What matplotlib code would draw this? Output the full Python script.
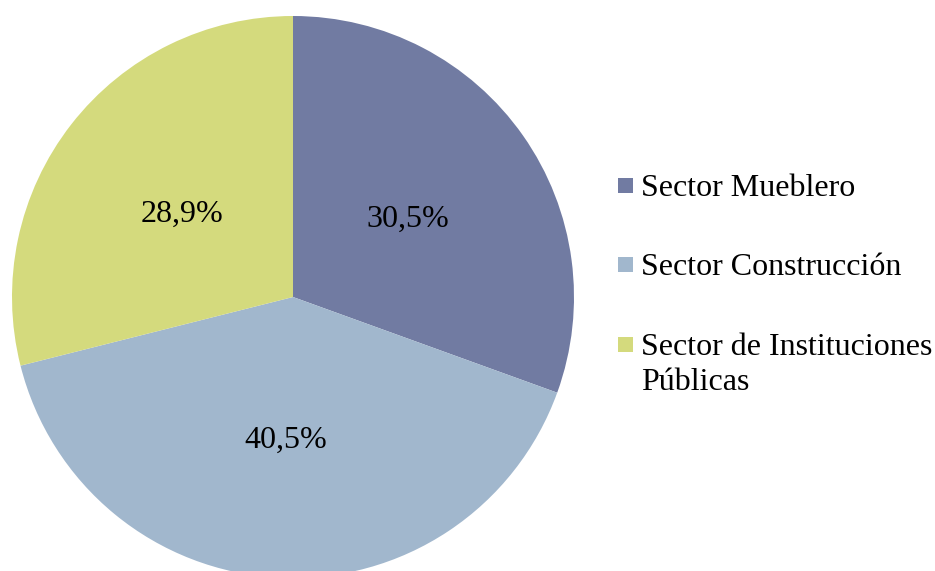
import matplotlib
matplotlib.use("Agg")
import matplotlib.pyplot as plt
from matplotlib.patches import Rectangle

categories = ["Sector Mueblero", "Sector Construcción", "Sector de Instituciones\nPúblicas"]
values = [30.5, 40.5, 28.9]
labels = ["30,5%", "40,5%", "28,9%"]
colors = ["#717BA2", "#A1B7CD", "#D4DA7D"]

plt.rcParams['font.family'] = ['Liberation Serif', 'DejaVu Serif']

W, H, DPI = 935, 571, 100
fig = plt.figure(figsize=(W / DPI, H / DPI), dpi=DPI)
cx, cy, r = 293, 297, 281
ax = fig.add_axes([(cx - r) / W, (H - cy - r) / H, 2 * r / W, 2 * r / H])
wedges, texts = ax.pie(values, labels=labels, colors=colors, startangle=90,
                       counterclock=False, radius=1, labeldistance=0.5,
                       wedgeprops=dict(linewidth=0),
                       textprops=dict(fontsize=23, color="black", ha="center",
                                      va="center_baseline"))
ax.set_xlim(-1, 1)
ax.set_ylim(-1, 1)
ax.axis("off")

# legend drawn manually (handle aligned to first line of each label)
legend_baselines = [196, 275, 355]
for lab, col, yb in zip(categories, colors, legend_baselines):
    fig.patches.append(Rectangle((618 / W, 1 - (yb - 3) / H), 15 / W, 15 / H,
                                 transform=fig.transFigure, facecolor=col,
                                 edgecolor="none"))
    fig.text(641 / W, 1 - yb / H, lab.split("\n")[0], fontsize=23,
             ha="left", va="baseline")
    for k, extra in enumerate(lab.split("\n")[1:], start=1):
        fig.text(641 / W, 1 - (yb + 35 * k) / H, extra, fontsize=23,
                 ha="left", va="baseline")
fig.savefig("out.png", dpi=DPI)
